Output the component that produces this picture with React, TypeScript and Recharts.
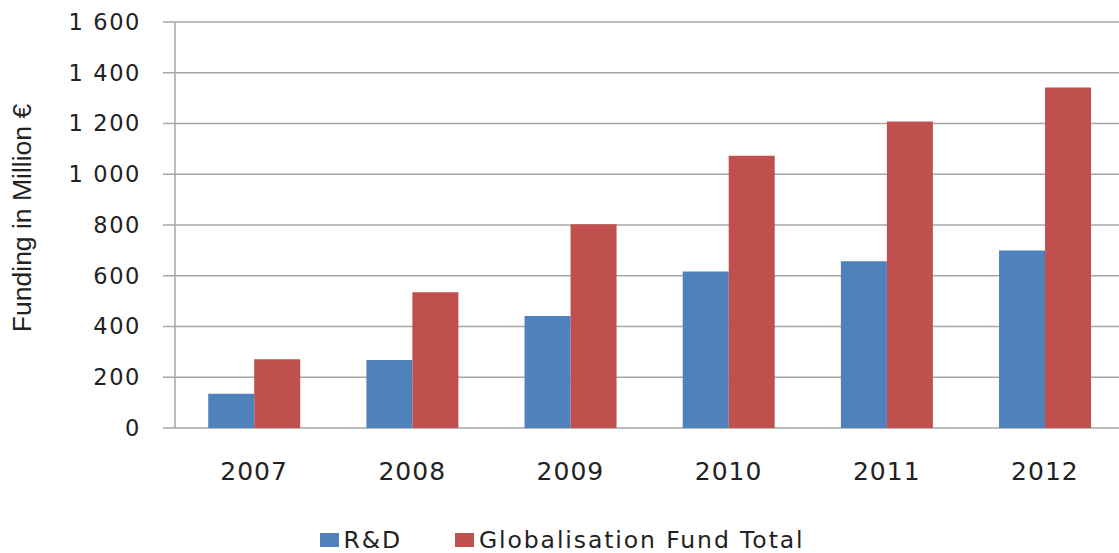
import { BarChart, Bar, XAxis, YAxis, CartesianGrid, Legend } from "recharts";

const years = ["2007", "2008", "2009", "2010", "2011", "2012"];
const rdFunding = [135, 268, 441, 617, 657, 700];
const globalFundTotal = [271, 535, 803, 1073, 1208, 1342];
const yTicks = [0, 200, 400, 600, 800, 1000, 1200, 1400, 1600];
const edgeTicks = [0, 1, 2, 3, 4, 5, 6];
const seriesOrder = ["rd", "total"];

const BLUE = "#4F81BD";
const RED = "#C0504D";
const GRID = "#A6A6A6";

const data = years.map((year, i) => ({
  year,
  rd: rdFunding[i],
  total: globalFundTotal[i],
}));

const fmt = (v: number) =>
  v >= 1000 ? `${Math.floor(v / 1000)} ${String(v % 1000).padStart(3, "0")}` : `${v}`;

function YLabel(props: any) {
  const vb = props.viewBox || {};
  const cx = vb.x + 22;
  const cy = vb.y + vb.height / 2 - 7;
  return (
    <text
      x={cx}
      y={cy}
      transform={`rotate(-90, ${cx}, ${cy})`}
      textAnchor="middle"
      dominantBaseline="central"
      fontFamily="'Liberation Sans', Arial, sans-serif"
      fontSize={26.5}
      fill="#222"
    >
      Funding in Million €
    </text>
  );
}

function LegendContent(props: any) {
  const items = [...(props.payload || [])].sort(
    (a: any, b: any) => seriesOrder.indexOf(a.dataKey) - seriesOrder.indexOf(b.dataKey)
  );
  return (
    <div
      style={{
        height: 40,
        boxSizing: "border-box",
        paddingTop: 14,
        display: "flex",
        justifyContent: "center",
        alignItems: "center",
        fontFamily: "'DejaVu Sans', sans-serif",
        fontSize: 23.5,
        letterSpacing: 1.9,
        color: "#222",
      }}
    >
      {items.map((it: any, i: number) => (
        <div
          key={it.value}
          style={{
            display: "flex",
            alignItems: "center",
            height: 26,
            marginLeft: i === 0 ? 0 : 53,
          }}
        >
          <span
            style={{
              display: "inline-block",
              width: 19,
              height: 14,
              background: it.color,
              marginRight: 5,
            }}
          />
          <span>{it.value}</span>
        </div>
      ))}
    </div>
  );
}

export default function App() {
  return (
    <div
      style={{
        position: "fixed",
        left: 0,
        top: 0,
        width: 1119,
        height: 553,
        overflow: "hidden",
        background: "#fff",
      }}
    >
      <BarChart
        width={1130}
        height={553}
        data={data}
        margin={{ top: 22, right: 6, bottom: 0, left: 0 }}
        barCategoryGap="21%"
        barGap={0}
      >
        <CartesianGrid vertical={false} stroke={GRID} strokeWidth={1.5} />
        <XAxis
          xAxisId="edges"
          type="number"
          domain={[0, 6]}
          ticks={edgeTicks}
          allowDataOverflow
          height={0}
          tick={false}
          tickSize={9}
          tickLine={{ stroke: GRID, strokeWidth: 1.5 }}
          axisLine={{ stroke: GRID, strokeWidth: 1.5 }}
        />
        <XAxis
          dataKey="year"
          height={85}
          tickLine={false}
          axisLine={false}
          tickSize={0}
          tickMargin={34}
          tick={{
            fontFamily: "'DejaVu Sans', sans-serif",
            fontSize: 25,
            letterSpacing: 1,
            fill: "#222",
          }}
        />
        <YAxis
          width={175}
          domain={[0, 1600]}
          ticks={yTicks}
          tickFormatter={fmt}
          tickSize={12}
          tickMargin={22}
          tickLine={{ stroke: GRID, strokeWidth: 1.5 }}
          axisLine={{ stroke: GRID, strokeWidth: 1.5 }}
          tick={{
            fontFamily: "'DejaVu Sans', sans-serif",
            fontSize: 22.5,
            letterSpacing: 1.6,
            fill: "#222",
          }}
          label={<YLabel />}
        />
        <Legend verticalAlign="bottom" content={<LegendContent />} />
        <Bar dataKey="rd" name="R&D" fill={BLUE} isAnimationActive={false} />
        <Bar
          dataKey="total"
          name="Globalisation Fund Total"
          fill={RED}
          isAnimationActive={false}
        />
      </BarChart>
    </div>
  );
}
